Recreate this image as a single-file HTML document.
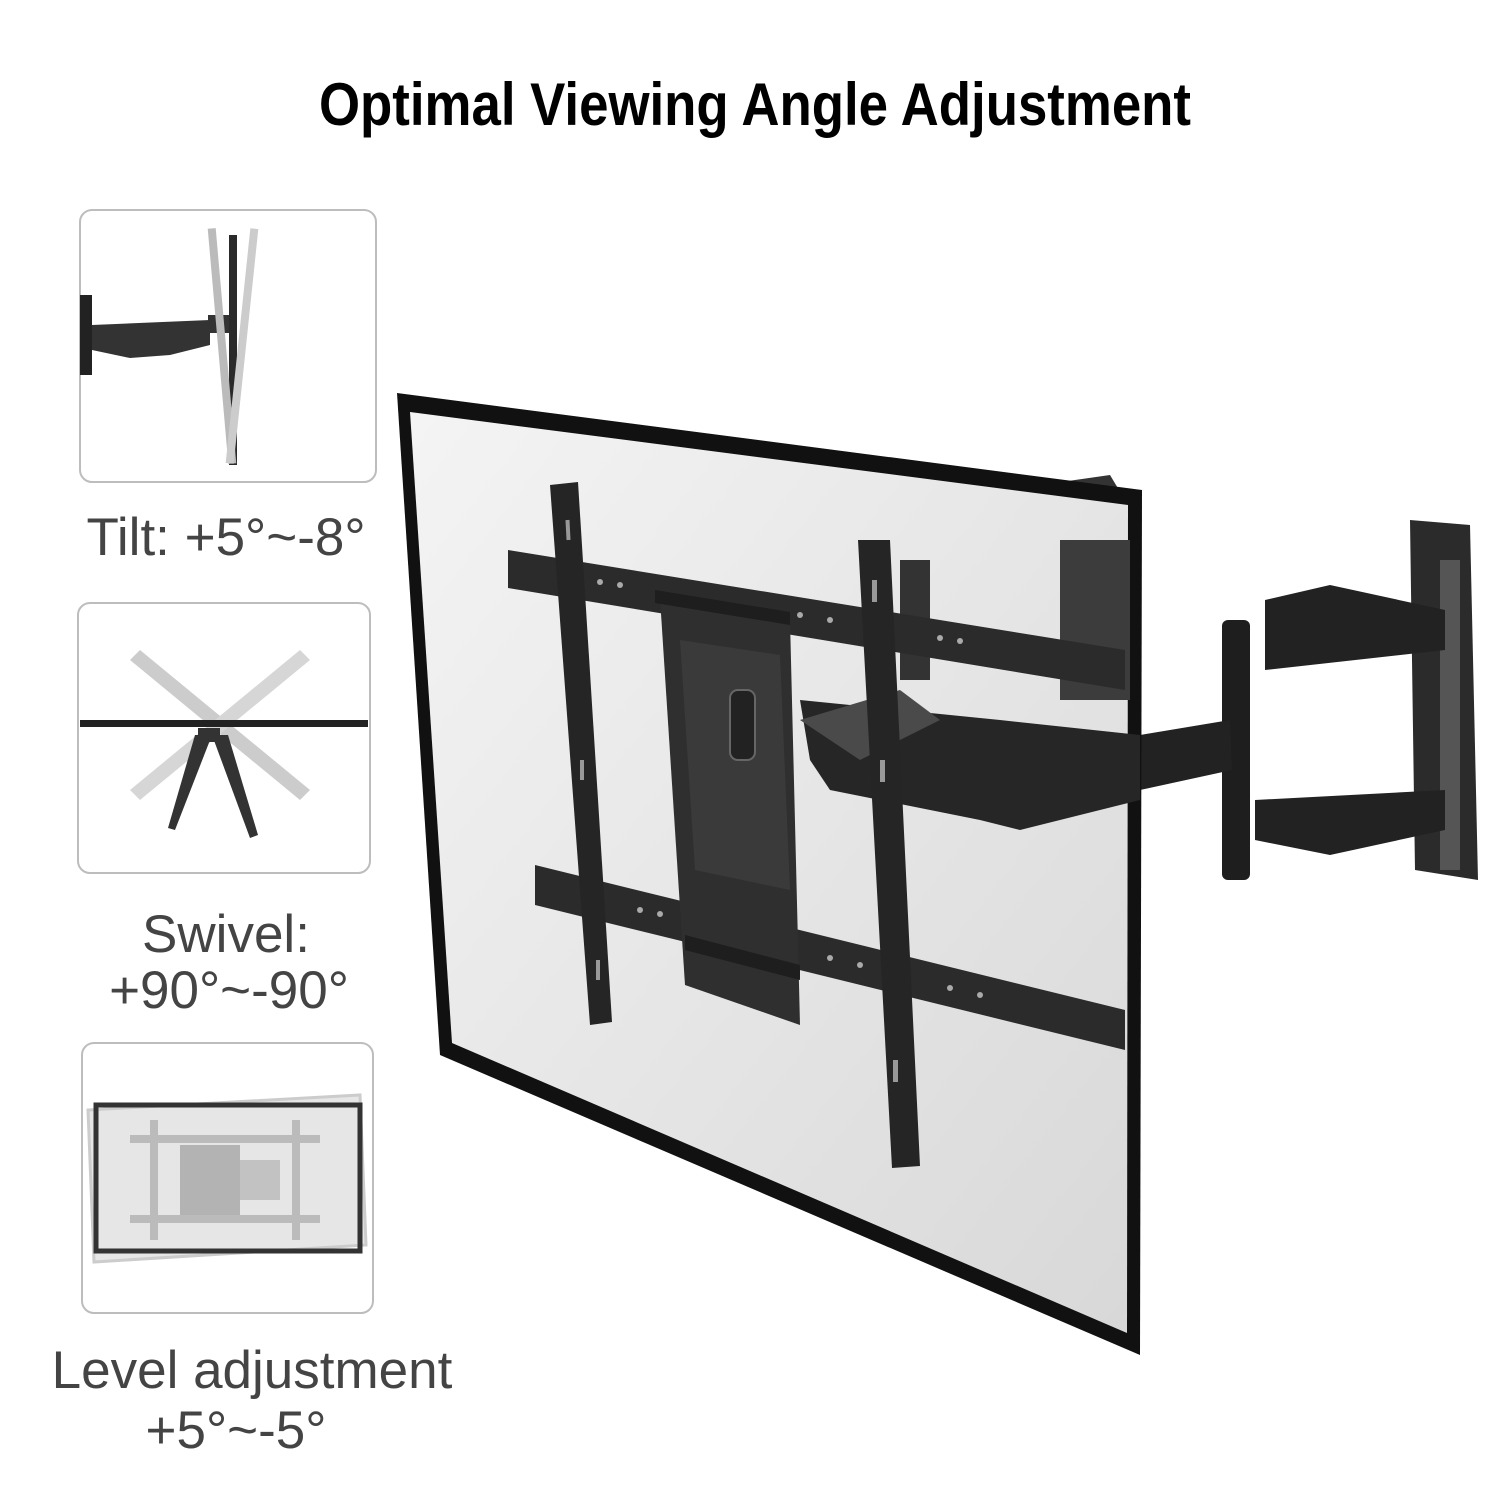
<!DOCTYPE html>
<html><head><meta charset="utf-8"><style>
html,body{margin:0;padding:0;background:#fff;}
svg{display:block}
</style></head><body>
<svg width="1500" height="1500" viewBox="0 0 1500 1500" xmlns="http://www.w3.org/2000/svg">
<defs>
<linearGradient id="scr" x1="0" y1="0" x2="1" y2="1">
<stop offset="0" stop-color="#f4f4f4"/><stop offset="1" stop-color="#d8d8d8"/>
</linearGradient>
</defs>
<text x="755" y="125" text-anchor="middle" font-family="Liberation Sans, sans-serif" font-weight="bold" font-size="60" textLength="872" lengthAdjust="spacingAndGlyphs" fill="#000">Optimal Viewing Angle Adjustment</text>

<rect x="80" y="210" width="296" height="272" rx="12" fill="#fff" stroke="#bdbdbd" stroke-width="2"/>
<rect x="78" y="603" width="292" height="270" rx="12" fill="#fff" stroke="#bdbdbd" stroke-width="2"/>
<rect x="82" y="1043" width="291" height="270" rx="12" fill="#fff" stroke="#bdbdbd" stroke-width="2"/>

<g>
<rect x="80" y="295" width="12" height="80" fill="#222"/>
<path d="M92 325 L210 320 L210 345 L170 355 L130 358 L92 350Z" fill="#333"/>
<rect x="208" y="315" width="22" height="18" fill="#333"/>
<rect x="229" y="235" width="8" height="230" fill="#2a2a2a"/>
<rect x="218" y="228" width="8" height="236" fill="#bbb" transform="rotate(-5 222 346)"/>
<rect x="238" y="228" width="8" height="236" fill="#ccc" transform="rotate(6 242 346)"/>
</g>
<g>
<polygon points="140,650 310,790 300,800 130,660" fill="#ccc"/>
<polygon points="300,650 130,790 140,800 310,660" fill="#d6d6d6"/>
<rect x="80" y="720" width="288" height="7" fill="#222"/>
<polygon points="195,735 212,735 175,830 168,828" fill="#333"/>
<polygon points="212,735 228,735 258,835 250,838" fill="#333"/>
<rect x="198" y="728" width="22" height="14" fill="#333"/>
</g>
<g>
<polygon points="88,1110 360,1095 366,1245 94,1262" fill="#e6e6e6" stroke="#ccc" stroke-width="3"/>
<rect x="96" y="1105" width="264" height="146" fill="none" stroke="#333" stroke-width="5"/>
<rect x="130" y="1135" width="190" height="8" fill="#bbb"/>
<rect x="130" y="1215" width="190" height="8" fill="#bbb"/>
<rect x="150" y="1120" width="8" height="120" fill="#bbb"/>
<rect x="292" y="1120" width="8" height="120" fill="#bbb"/>
<rect x="180" y="1145" width="60" height="70" fill="#b3b3b3"/>
<rect x="240" y="1160" width="40" height="40" fill="#c2c2c2"/>
</g>

<g font-family="Liberation Sans, sans-serif" font-size="53" fill="#444" text-anchor="middle">
<text x="226" y="555">Tilt:  +5°~-8°</text>
<text x="226" y="952">Swivel:</text>
<text x="229" y="1008">+90°~-90°</text>
<text x="252" y="1388">Level adjustment</text>
<text x="236" y="1448">+5°~-5°</text>
</g>

<path d="M1040 485 L1110 475 L1125 500 L1125 560 L1040 560Z" fill="#333"/>
<rect x="1030" y="520" width="80" height="230" fill="#3a3a3a"/>
<path d="M930 550 L1080 520 L1090 610 L935 640Z" fill="#2a2a2a"/>
<path d="M1410 520 L1470 525 L1478 880 L1415 870Z" fill="#2b2b2b"/>
<rect x="1440" y="560" width="20" height="310" fill="#555"/>
<path d="M1265 600 L1330 585 L1445 610 L1445 650 L1265 670Z" fill="#222"/>
<path d="M1255 800 L1445 790 L1445 830 L1330 855 L1255 840Z" fill="#222"/>
<rect x="1222" y="620" width="28" height="260" rx="6" fill="#1e1e1e"/>
<path d="M1140 735 L1230 720 L1232 770 L1140 790Z" fill="#222"/>

<polygon points="397,393 1142,490 1140,1355 440,1055" fill="#111"/>
<polygon points="410,412 1128,505 1127,1333 452,1043" fill="url(#scr)"/>

<path d="M800 700 L1000 720 L1140 735 L1140 800 L1020 830 L980 820 L830 790 L810 760Z" fill="#262626"/>
<path d="M800 720 L900 690 L940 720 L860 760Z" fill="#4a4a4a"/>
<rect x="900" y="560" width="30" height="120" fill="#333"/>
<rect x="1060" y="540" width="70" height="160" fill="#3c3c3c"/>

<polygon points="508,550 1125,650 1125,690 508,588" fill="#2b2b2b"/>
<polygon points="535,865 1125,1010 1125,1050 535,905" fill="#2b2b2b"/>
<g fill="#aaa">
<circle cx="560" cy="575" r="3"/><circle cx="600" cy="582" r="3"/><circle cx="620" cy="585" r="3"/>
<circle cx="800" cy="615" r="3"/><circle cx="830" cy="620" r="3"/><circle cx="940" cy="638" r="3"/><circle cx="960" cy="641" r="3"/>
<circle cx="640" cy="910" r="3"/><circle cx="660" cy="914" r="3"/><circle cx="830" cy="958" r="3"/><circle cx="860" cy="965" r="3"/><circle cx="950" cy="988" r="3"/><circle cx="980" cy="995" r="3"/>
</g>
<polygon points="660,598 790,620 800,1025 685,985" fill="#2f2f2f"/>
<polygon points="680,640 780,655 790,890 695,870" fill="#3a3a3a"/>
<rect x="730" y="690" width="25" height="70" rx="8" fill="#222" stroke="#666" stroke-width="2"/>
<polygon points="655,590 790,612 790,625 655,603" fill="#1e1e1e"/>
<polygon points="685,935 800,965 800,980 685,950" fill="#1e1e1e"/>
<polygon points="550,485 578,482 612,1022 590,1025" fill="#252525"/>
<polygon points="858,540 890,540 920,1166 892,1168" fill="#252525"/>
<g fill="#999">
<rect x="566" y="520" width="4" height="20" transform="rotate(-3 568 530)"/>
<rect x="872" y="580" width="5" height="22"/><rect x="880" y="760" width="5" height="22"/><rect x="893" y="1060" width="5" height="22"/>
<rect x="580" y="760" width="4" height="20"/><rect x="596" y="960" width="4" height="20"/>
</g>
</svg>
</body></html>
